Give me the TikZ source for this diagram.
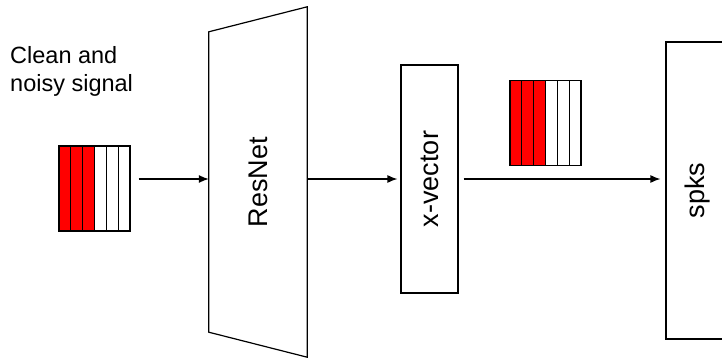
\documentclass[tikz,border=0pt]{standalone}
\usepackage{fontspec}
\setmainfont{Liberation Sans}
\usetikzlibrary{positioning,arrows.meta,calc}

\begin{document}
\begin{tikzpicture}[
    x=1pt, y=-1pt,
    every node/.style={font=\fontsize{27}{32}\selectfont},
    block/.style={draw, line width=1.2pt, inner sep=0pt},
    signal/.style={block, minimum width=71pt, minimum height=85pt,
                   path picture={
                     \fill[red] (path picture bounding box.south west) rectangle
                       ($(path picture bounding box.north west)!0.5!(path picture bounding box.north east)$);
                     \foreach \k in {1,...,5}
                       \draw[line width=1.2pt]
                         ($(path picture bounding box.south west)!\k/6!(path picture bounding box.south east)$) --
                         ($(path picture bounding box.north west)!\k/6!(path picture bounding box.north east)$);
                   }},
    arr/.style ={-{Latex[length=10pt, width=8pt]}, line width=1.2pt}
  ]
  \useasboundingbox (0,0) rectangle (722,359);
  % input and embedding
  \node[anchor=north west, inner sep=0pt, align=left,
        font=\fontsize{23.5}{28}\selectfont] (caption) at (10,46) {Clean and\\noisy signal};
  \node[signal] (sig1) at (94.5,188.5) {};
  \node[inner sep=0pt, minimum width=98pt, minimum height=350pt] (resnet) at (258,182)
       {\rotatebox{90}{ResNet}};
  \draw[block] ([yshift=-25pt]resnet.north west) -- (resnet.north east)
        -- (resnet.south east) -- ([yshift=25pt]resnet.south west) -- cycle;
  \node[block, minimum width=57pt, minimum height=228pt] (xvec) at (429.5,179)
       {\rotatebox{90}{x-vector}};
  \node[signal] (sig2) at (545.5,123) {};
  \node[block, minimum width=64pt, minimum height=297pt] (spks) at (698,190.5)
       {\rotatebox{90}{spks}};
  % connectors
  \draw[arr] ([xshift=8pt]sig1.east |- xvec.west) -- (resnet.west |- xvec.west);
  \draw[arr] (resnet.east |- xvec.west) -- ([xshift=-3pt]xvec.west);
  \draw[arr] ([xshift=5pt]xvec.east) -- ([xshift=-5pt]spks.west |- xvec.east);
\end{tikzpicture}
\end{document}
